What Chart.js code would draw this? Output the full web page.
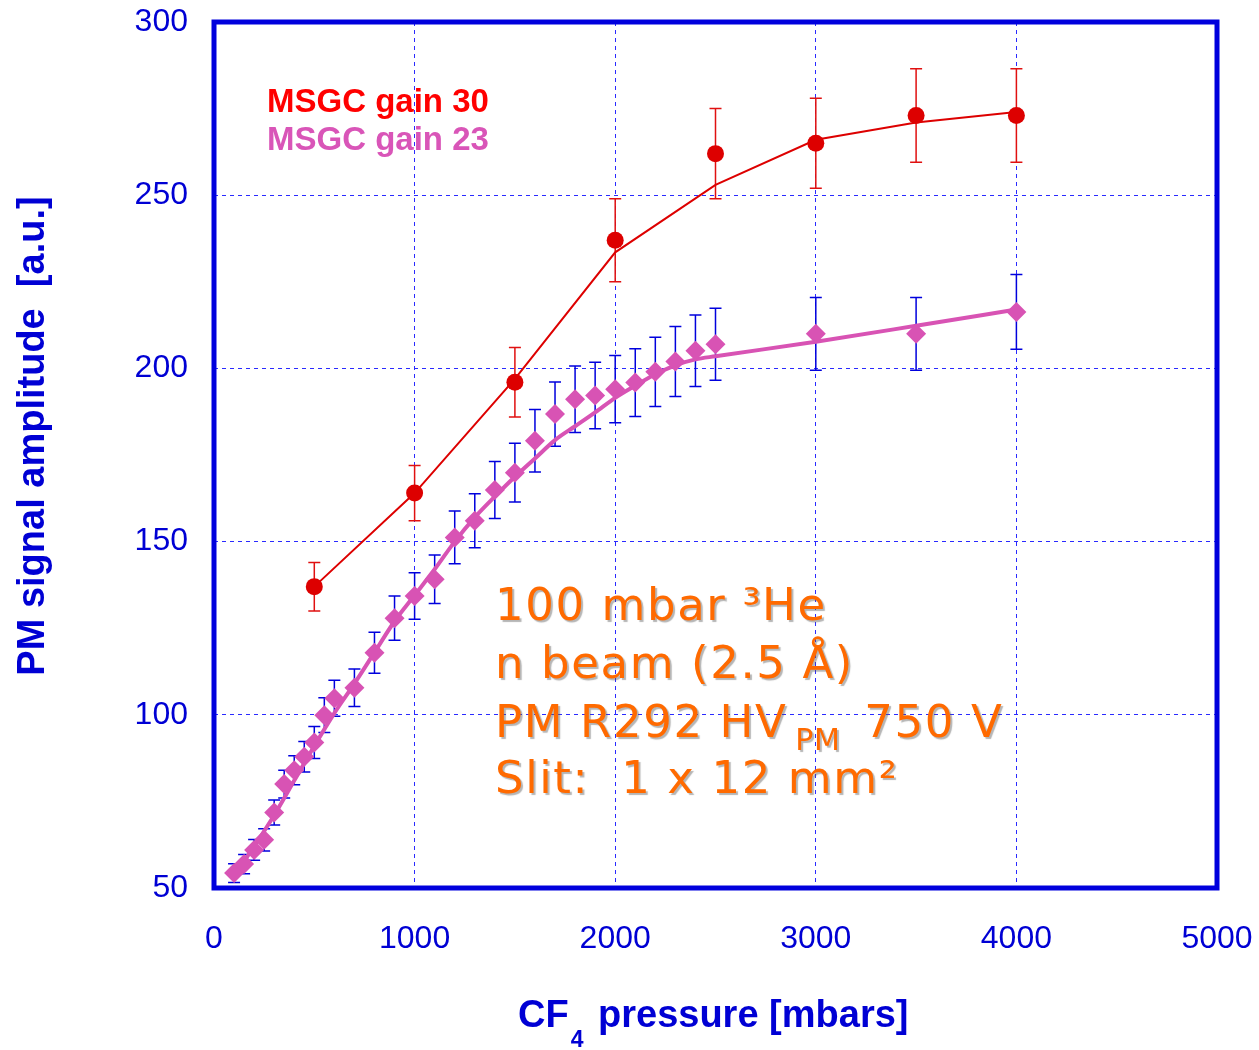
<!DOCTYPE html>
<html>
<head>
<meta charset="utf-8">
<script src="https://cdn.jsdelivr.net/npm/chart.js@4.4.1/dist/chart.umd.min.js"></script>
<style>
  body { margin: 0; background: #fff; }
  canvas { display: block; }
</style>
</head>
<body>
<canvas id="pmChart" width="1259" height="1050"></canvas>
<script>
// measured points, MSGC gain 30 (red)
var redX = [500, 1000, 1500, 2000, 2500, 3000, 3500, 4000];
var redY = [137, 164, 196, 237, 262, 265, 273, 273];
var redErr = [7, 8, 10, 12, 13, 13, 13.5, 13.5];
// red guide line
var redFitX = [500, 1000, 1500, 2000, 2500, 3000, 3500, 4000];
var redFitY = [137, 164, 197, 233.5, 253, 266, 271, 274];

// measured points, MSGC gain 23 (magenta)
var magX = [100, 150, 200, 250, 300, 350, 400, 450, 500, 550, 600, 700, 800, 900, 1000, 1100,
  1200, 1300, 1400, 1500, 1600, 1700, 1800, 1900, 2000, 2100, 2200, 2300, 2400, 2500, 3000, 3500, 4000];
var magY = [54.3, 56.9, 61, 63.9, 71.8, 80, 84, 87.9, 92, 99.9, 104.8, 107.8, 117.9, 127.9, 134.3, 139.1,
  151.2, 156, 164.9, 169.9, 179.1, 186.8, 191.1, 192.2, 194, 195.9, 199, 202, 205.1, 207, 210, 210, 216.3];
var magErr = [2.7, 2.8, 3.0, 3.2, 3.6, 4.0, 4.2, 4.4, 4.6, 5.0, 5.2, 5.4, 5.9, 6.4, 6.7, 7.0,
  7.6, 7.8, 8.2, 8.5, 9.0, 9.3, 9.6, 9.6, 9.7, 9.8, 10, 10.1, 10.3, 10.4, 10.5, 10.5, 10.8];
// magenta smooth curve
var magFitX = [100, 200, 300, 400, 500, 600, 700, 800, 900, 1000, 1100, 1200, 1300, 1400, 1500,
  1600, 1700, 1800, 1900, 2000, 2100, 2200, 2300, 2400, 2500, 3000, 3500, 4000];
var magFitY = [53.5, 62, 71, 81, 91, 100.5, 109, 118, 127, 134.5, 142, 150, 157, 163, 168.7,
  174, 179.3, 183.3, 187.3, 191.5, 195, 198.3, 200.9, 202.6, 203.5, 207.7, 212.3, 217];

var xTicks = [0, 1000, 2000, 3000, 4000, 5000];
var yTicks = [50, 100, 150, 200, 250, 300];

var BLUE = "#0000d4";
var RED = "#dd0000";
var MAG = "#d853b4";
var GRID = "#2a2aff";

function pts(xs, ys) {
  var out = [];
  for (var i = 0; i < xs.length; i++) out.push({ x: xs[i], y: ys[i] });
  return out;
}

var errorBars = {
  id: "errorBars",
  beforeDatasetsDraw: function (chart) {
    var ctx = chart.ctx;
    var xs = chart.scales.x, ys = chart.scales.y;
    var sets = [
      { x: redX, y: redY, e: redErr, c: "#e01010" },
      { x: magX, y: magY, e: magErr, c: "#0000dd" },
    ];
    ctx.save();
    ctx.lineWidth = 1.5;
    sets.forEach(function (s) {
      ctx.strokeStyle = s.c;
      for (var i = 0; i < s.x.length; i++) {
        var px = xs.getPixelForValue(s.x[i]);
        var top = ys.getPixelForValue(s.y[i] + s.e[i]);
        var bot = ys.getPixelForValue(s.y[i] - s.e[i]);
        ctx.beginPath();
        ctx.moveTo(px, top); ctx.lineTo(px, bot);
        ctx.moveTo(px - 6, top); ctx.lineTo(px + 6, top);
        ctx.moveTo(px - 6, bot); ctx.lineTo(px + 6, bot);
        ctx.stroke();
      }
    });
    ctx.restore();
  },
};

var decorations = {
  id: "decorations",
  afterDraw: function (chart) {
    var ctx = chart.ctx;
    var a = chart.chartArea;
    ctx.save();
    // thick frame
    ctx.strokeStyle = "#0000dd";
    ctx.lineWidth = 5;
    ctx.strokeRect(a.left, a.top, a.right - a.left, a.bottom - a.top);

    // legend text
    ctx.textBaseline = "alphabetic";
    ctx.textAlign = "left";
    ctx.font = "bold 33px 'Liberation Sans', Arial, sans-serif";
    ctx.fillStyle = "#ff0000";
    ctx.fillText("MSGC gain 30", 267, 112);
    ctx.fillStyle = "#d955b8";
    ctx.fillText("MSGC gain 23", 267, 150);

    // axis titles
    ctx.fillStyle = BLUE;
    ctx.font = "bold 38px 'Liberation Sans', Arial, sans-serif";
    var x0 = 518, by = 1027;
    ctx.fillText("CF", x0, by);
    var w = ctx.measureText("CF").width;
    ctx.font = "bold 23px 'Liberation Sans', Arial, sans-serif";
    ctx.fillText("4", x0 + w + 2, by + 20);
    var w4 = ctx.measureText("4").width;
    ctx.font = "bold 38px 'Liberation Sans', Arial, sans-serif";
    ctx.fillText(" pressure [mbars]", x0 + w + w4 + 6, by);

    ctx.save();
    ctx.translate(44, 436);
    ctx.rotate(-Math.PI / 2);
    ctx.textAlign = "center";
    ctx.fillText("PM signal amplitude  [a.u.]", 0, 0);
    ctx.restore();

    // annotation box
    ctx.fillStyle = "#ff6a00";
    ctx.shadowColor = "rgba(90,90,90,0.45)";
    ctx.shadowOffsetX = 2;
    ctx.shadowOffsetY = 2;
    ctx.shadowBlur = 1;
    ctx.letterSpacing = "1.6px";
    var big = "45px 'DejaVu Sans', Verdana, sans-serif";
    var small = "30px 'DejaVu Sans', Verdana, sans-serif";
    var tx = 495;
    ctx.font = big;
    ctx.fillText("100 mbar \u00B3He", tx, 620);
    ctx.fillText("n beam (2.5 \u00C5)", tx, 678);
    ctx.fillText("PM R292 HV", tx, 737);
    var w1 = ctx.measureText("PM R292 HV").width;
    var sx = tx + w1 + 8;
    ctx.font = small;
    ctx.letterSpacing = "0.5px";
    ctx.fillText("PM", sx, 750);
    var w2 = ctx.measureText("PM").width;
    ctx.font = big;
    ctx.letterSpacing = "1.6px";
    ctx.fillText("750 V", sx + w2 + 24, 737);
    ctx.fillText("Slit:  1 x 12 mm\u00B2", tx, 793);
    ctx.restore();
  },
};

var chart = new Chart(document.getElementById("pmChart").getContext("2d"), {
  type: "scatter",
  data: {
    datasets: [
      {
        label: "fit 30",
        data: pts(redFitX, redFitY),
        showLine: true,
        borderColor: RED,
        borderWidth: 2,
        pointRadius: 0,
        tension: 0,
        order: 4,
      },
      {
        label: "fit 23",
        data: pts(magFitX, magFitY),
        showLine: true,
        borderColor: MAG,
        borderWidth: 4,
        pointRadius: 0,
        cubicInterpolationMode: "monotone",
        order: 3,
      },
      {
        label: "MSGC gain 30",
        data: pts(redX, redY),
        pointStyle: "circle",
        pointRadius: 8.5,
        backgroundColor: RED,
        borderColor: RED,
        borderWidth: 0,
        order: 2,
      },
      {
        label: "MSGC gain 23",
        data: pts(magX, magY),
        pointStyle: "rectRot",
        pointRadius: 10,
        backgroundColor: MAG,
        borderColor: MAG,
        borderWidth: 0,
        order: 1,
      },
    ],
  },
  options: {
    responsive: false,
    animation: false,
    clip: false,
    layout: { padding: { top: 22, right: 42, left: 0, bottom: 0 } },
    plugins: { legend: { display: false }, tooltip: { enabled: false } },
    scales: {
      x: {
        type: "linear",
        min: 0,
        max: 5000,
        afterBuildTicks: function (s) { s.ticks = xTicks.map(function (v) { return { value: v }; }); },
        afterFit: function (s) { s.height = 162; s.paddingLeft = 0; s.paddingRight = 0; },
        grid: { color: GRID, lineWidth: 1, drawTicks: false },
        border: { display: false, dash: [4, 4] },
        ticks: {
          color: BLUE,
          padding: 32,
          maxRotation: 0,
          callback: function (v) { return String(v); },
          font: { family: "'Liberation Sans', Arial, sans-serif", size: 32 },
        },
      },
      y: {
        type: "linear",
        min: 50,
        max: 300,
        afterBuildTicks: function (s) { s.ticks = yTicks.map(function (v) { return { value: v }; }); },
        afterFit: function (s) { s.width = 214; s.paddingTop = 0; s.paddingBottom = 0; },
        grid: { color: GRID, lineWidth: 1, drawTicks: false },
        border: { display: false, dash: [4, 4] },
        ticks: {
          color: BLUE,
          padding: 26,
          callback: function (v) { return String(v); },
          font: { family: "'Liberation Sans', Arial, sans-serif", size: 32 },
        },
      },
    },
  },
  plugins: [errorBars, decorations],
});
</script>
</body>
</html>
